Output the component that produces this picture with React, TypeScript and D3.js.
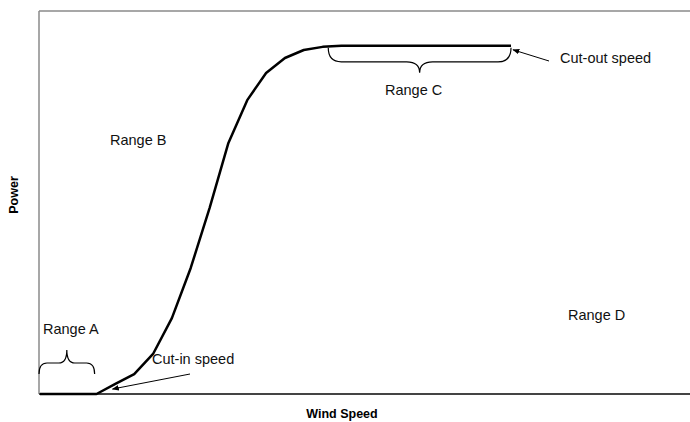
import React from "react";
import { scaleLinear, line } from "d3";

// wind speed (m/s) and normalised power
const windSpeed = [0, 1, 2, 3, 4, 5, 6, 7, 8, 9, 10, 11, 12, 13, 14, 15, 16, 17, 18, 19, 20, 21, 22, 23, 24, 25];
const power = [0, 0, 0, 0, 0.029, 0.057, 0.115, 0.218, 0.362, 0.534, 0.721, 0.844, 0.922, 0.965, 0.988, 0.997, 1.0, 1.0, 1.0, 1.0, 1.0, 1.0, 1.0, 1.0, 1.0, 1.0];

const rangeLabels = ["Range A", "Range B", "Range C", "Range D"];
const cutIn = 3;
const cutOut = 25;

function brace(x1: number, x2: number, yEnd: number, yMid: number, yTip: number, r: number) {
  const xm = (x1 + x2) / 2;
  return `M${x1},${yEnd} Q${x1},${yMid} ${x1 + r},${yMid} L${xm - r},${yMid} Q${xm},${yMid} ${xm},${yTip} Q${xm},${yMid} ${xm + r},${yMid} L${x2 - r},${yMid} Q${x2},${yMid} ${x2},${yEnd}`;
}

export default function App() {
  const width = 690;
  const height = 422;
  const left = 40;
  const right = 690;
  const top = 11;
  const bottom = 394;

  const x = scaleLinear().domain([0, 34.5]).range([left, right]);
  const y = scaleLinear().domain([0, 1.1]).range([bottom, top]);

  const pts = windSpeed.map((w, i) => [w, power[i]] as [number, number]);
  const path = line<[number, number]>()
    .x((d) => x(d[0]))
    .y((d) => y(d[1]))(pts) as string;

  const font = "Arial, 'Liberation Sans', sans-serif";

  return (
    <svg
      width={width}
      height={height}
      style={{ position: "absolute", left: 0, top: 0, background: "#fff" }}
      fontFamily={font}
    >
      {/* frame */}
      <line x1={x(0) - 1} x2={x(0) - 1} y1={y(1.1)} y2={y(0)} stroke="#8a8a8a" strokeWidth={1.5} />
      <line x1={x(0) - 1} x2={width} y1={y(1.1)} y2={y(1.1)} stroke="#8a8a8a" strokeWidth={1.5} />
      <line x1={x(0) - 1} x2={width} y1={y(0)} y2={y(0)} stroke="#444" strokeWidth={2} />

      {/* power curve */}
      <path d={path} fill="none" stroke="#000" strokeWidth={2.5} strokeLinejoin="round" />

      {/* braces */}
      <path d={brace(x(0) - 1, x(2.9), y(0) - 20, y(0) - 31, y(0) - 44, 8)} fill="none" stroke="#000" strokeWidth={1.2} />
      <path d={brace(x(15.3), x(cutOut), y(1) + 2, y(1) + 16, y(1) + 27, 13)} fill="none" stroke="#000" strokeWidth={1.2} />

      {/* arrows */}
      <defs>
        <marker id="ah" viewBox="0 0 10 10" refX="9" refY="5" markerWidth="7" markerHeight="7" orient="auto">
          <path d="M0,1 L10,5 L0,9 z" fill="#000" />
        </marker>
      </defs>
      <line x1={190} y1={374} x2={x(cutIn) + 16} y2={y(0) - 5} stroke="#000" strokeWidth={1} markerEnd="url(#ah)" />
      <line x1={549} y1={61} x2={x(cutOut) + 2} y2={y(1) + 4} stroke="#000" strokeWidth={1} markerEnd="url(#ah)" />

      {/* text */}
      <g fontSize={14.5} fill="#111">
        <text x={43} y={334}>{rangeLabels[0]}</text>
        <text x={110} y={145}>{rangeLabels[1]}</text>
        <text x={385} y={95}>{rangeLabels[2]}</text>
        <text x={568} y={320}>{rangeLabels[3]}</text>
        <text x={152} y={364}>Cut-in speed</text>
        <text x={560} y={63}>Cut-out speed</text>
      </g>
      <text x={342} y={418} textAnchor="middle" fontWeight="bold" fontSize={12.5}>
        Wind Speed
      </text>
      <text transform="translate(18,195) rotate(-90)" textAnchor="middle" fontWeight="bold" fontSize={12.5}>
        Power
      </text>
    </svg>
  );
}
